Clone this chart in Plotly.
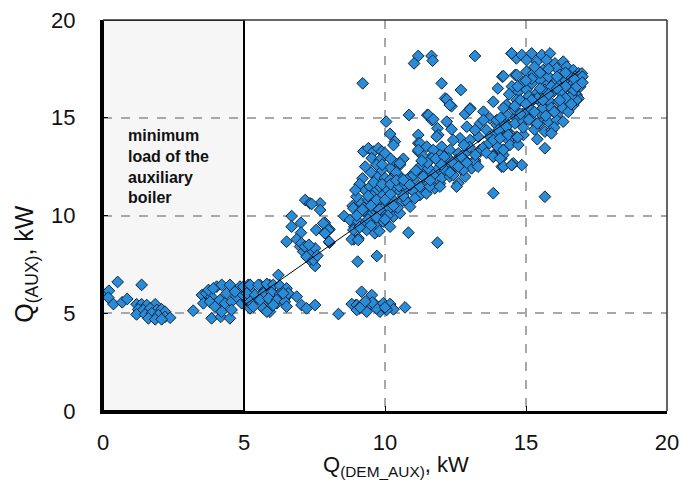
import plotly.graph_objects as go

# ---- data ----
low_x = [0.0, 0.21, 0.52, 0.19, 0.37, 0.68, 0.86, 1.37,
         1.19, 1.37, 1.55, 1.85, 1.25, 1.43, 1.67, 1.91, 2.08, 2.20, 1.19, 1.49, 1.73, 1.96, 2.20, 2.38, 1.61, 1.85, 2.08]
low_y = [6.0, 6.15, 6.6, 5.8, 5.47, 5.56, 5.73, 6.45,
         5.46, 5.46, 5.42, 5.46, 5.20, 5.17, 5.25, 5.17, 5.20, 5.08, 4.94, 4.94, 5.0, 4.91, 4.82, 4.77, 4.74, 4.69, 4.69]

mid_x = [3.20, 3.51, 3.66, 3.84, 4.03, 4.21, 4.50, 4.86, 5.15, 3.56, 3.79, 3.97, 4.15, 4.33, 4.56, 4.74, 4.92, 5.09,
         3.85, 4.18, 4.50, 4.21, 4.56, 4.38, 4.68, 4.97, 5.27, 5.27, 3.74, 3.91]
mid_y = [5.13, 5.93, 6.02, 5.85, 6.36, 6.45, 6.45, 6.36, 6.45, 5.51, 5.59, 5.34, 5.68, 5.51, 5.59, 5.85, 5.51, 5.68,
         4.74, 4.82, 4.74, 5.08, 5.17, 6.02, 6.10, 5.93, 5.85, 5.42, 6.19, 6.27]

band_x = [5.21, 5.57, 5.92, 6.22, 5.33, 5.69, 6.04, 6.39, 5.15, 5.51, 5.86, 6.22, 6.51, 5.21, 5.69, 5.92, 6.16,
          4.98, 5.22, 5.51, 5.81, 6.04, 6.28, 6.51, 5.10, 5.39, 5.69, 5.98, 6.28, 6.57, 5.22, 5.57, 5.87, 6.16, 6.45,
          5.33, 5.69, 6.04, 5.81]
band_y = [6.44, 6.44, 6.44, 6.96, 6.02, 6.10, 6.02, 6.19, 5.68, 5.76, 5.68, 5.76, 5.85, 5.25, 5.25, 5.08, 5.51,
          6.36, 6.45, 6.45, 6.50, 6.45, 6.40, 6.27, 6.02, 5.93, 6.02, 6.05, 5.98, 6.02, 5.59, 5.68, 5.76, 5.68, 5.59,
          5.34, 5.25, 5.42, 5.08]

rise_x = [6.87, 7.04, 7.22, 7.52, 8.35, 6.51, 6.69, 6.69, 7.02, 7.02, 6.87, 6.99, 7.10, 7.22, 7.40, 7.52, 7.34, 7.52,
          7.17, 7.34, 7.70, 7.70, 7.56, 7.87, 8.03, 7.86, 8.03, 7.04, 8.55, 8.85, 9.03, 8.91, 8.89, 9.03, 8.97, 9.09,
          7.16, 7.22, 7.46, 7.40, 7.30, 7.60, 7.81, 7.99, 7.87, 8.02]
rise_y = [5.85, 5.42, 5.25, 5.42, 4.96, 8.66, 9.97, 9.43, 9.63, 9.12, 8.78, 8.41, 8.15, 8.32, 8.06, 8.32, 7.72, 7.42,
          10.79, 10.62, 10.62, 10.28, 9.26, 9.63, 9.29, 9.12, 8.61, 8.58, 9.97, 10.49, 10.54, 9.43, 8.78, 7.64, 5.42, 5.25,
          8.41, 7.89, 7.72, 10.59, 8.50, 7.95, 9.60, 9.26, 9.09, 8.66]

shelf_x = [9.17, 9.53, 8.82, 9.00, 9.23, 9.41, 9.64, 9.82, 9.94, 10.18, 10.30, 10.71, 9.00, 9.35, 9.82, 10.06, 6.39, 6.51,
           9.12, 9.70, 9.55, 10.0, 9.30, 10.83, 11.86, 9.71, 9.06]
shelf_y = [6.10, 5.93, 5.47, 5.42, 5.51, 5.34, 5.47, 5.34, 5.51, 5.47, 5.20, 5.30, 5.17, 5.08, 5.08, 5.17, 6.02, 5.34,
           5.30, 5.25, 5.55, 5.30, 5.60, 9.12, 8.61, 7.93, 8.84]

c10_x = [9.21, 12.01, 12.13, 10.04, 10.85, 11.50, 11.66, 11.86, 11.89, 10.18, 10.35, 10.30, 11.18, 11.18, 11.18,
         9.23, 9.41, 9.59, 9.76, 9.89, 10.00, 9.53, 9.82, 10.30, 10.53, 10.18, 9.88, 9.70, 10.00, 10.30, 10.59, 10.77,
         11.01, 11.30, 11.47, 11.71, 11.95, 12.18, 11.53, 11.83, 12.18,
         9.29, 9.47, 9.64, 9.82, 10.06, 10.30, 10.53, 10.77, 11.01, 8.99, 9.17, 9.41, 9.59, 9.82, 10.06, 10.30, 10.53,
         10.77, 10.89, 8.88, 9.11, 9.35, 9.59, 9.82, 10.06, 10.30, 10.53, 8.76, 9.05, 9.29, 9.53, 9.70, 9.94, 10.18,
         8.88, 9.35, 9.64, 8.82, 9.05, 10.18, 11.36, 11.59, 11.24, 11.47, 11.06, 11.95, 11.77, 12.07, 12.25,
         9.2, 9.5, 9.1, 8.95, 9.7, 10.4, 10.65, 9.0, 9.45, 10.15, 10.45, 9.7, 9.25, 9.9, 10.2, 10.65, 9.55,
         9.6, 9.9, 10.2, 10.5, 9.4, 9.7, 10.0, 10.3, 9.2, 9.5, 9.8, 10.1, 9.4, 9.7, 10.0, 9.1, 9.5, 9.8,
         10.4, 10.7, 10.9, 10.2, 9.9, 9.3]
c10_y = [16.76, 16.76, 15.99, 14.80, 15.14, 15.14, 14.88, 14.46, 14.12, 14.17, 13.78, 13.60, 14.12, 13.70, 13.27,
         13.27, 13.44, 13.27, 13.44, 13.27, 13.18, 12.93, 12.84, 12.76, 12.59, 12.42, 12.33, 11.99, 11.91, 11.99, 11.91, 11.82,
         11.82, 12.33, 12.84, 13.10, 12.67, 12.84, 11.99, 12.33, 12.16,
         11.30, 11.47, 11.22, 11.47, 11.30, 11.47, 11.22, 11.30, 11.22, 10.96, 10.62, 10.79, 10.54, 10.79, 10.62, 10.79, 10.62,
         10.71, 10.45, 10.37, 10.19, 10.11, 10.19, 10.02, 10.11, 9.94, 10.11, 9.77, 9.69, 9.60, 9.77, 9.43, 9.69, 9.43,
         9.26, 9.26, 9.09, 8.78, 8.75, 11.82, 11.47, 11.82, 11.05, 11.13, 10.88, 11.64, 11.39, 12.16, 12.50,
         11.9, 12.2, 11.6, 11.3, 12.6, 12.2, 12.9, 10.0, 9.95, 10.35, 10.4, 10.4, 10.4, 11.0, 11.1, 11.0, 11.0,
         11.7, 11.6, 11.6, 11.5, 11.0, 10.8, 10.8, 10.5, 10.3, 10.5, 10.3, 10.0, 9.8, 9.9, 9.8, 9.4, 9.5, 9.2,
         11.8, 11.6, 12.0, 12.9, 12.6, 12.5]

c13_x = [11.18, 11.03, 11.65, 11.69, 13.19, 14.49, 14.66, 12.69, 12.19, 12.36, 14.16, 14.62, 13.84, 14.31, 11.54, 11.71,
         12.19, 12.36, 11.83, 12.84, 13.02, 13.49, 13.72, 13.37, 13.96, 14.31, 14.61, 14.43, 14.61, 14.19, 13.84, 14.13,
         14.55, 12.66, 13.02, 13.31, 13.60, 13.84, 14.07, 14.31, 11.24, 11.18,
         11.48, 11.71, 12.01, 12.30, 12.60, 12.89, 11.36, 11.66, 11.95, 12.25, 12.54, 12.84, 11.24, 11.54, 12.13, 12.42,
         12.72, 11.01, 11.36, 11.71, 12.01, 12.30, 12.60, 10.65, 10.88, 11.24, 11.59, 11.95, 13.19, 13.37, 12.84, 13.07, 10.53,
         13.01, 12.30, 12.42, 12.90, 13.19, 13.49, 13.72, 13.96, 14.20, 14.37, 13.37, 13.19, 13.84, 14.20, 14.14, 14.49,
         14.85, 15.67, 13.84, 15.67, 12.54, 12.42, 12.78,
         11.5, 11.8, 12.1, 12.4, 12.7, 12.0, 12.3, 12.6, 12.9, 13.2, 13.5, 13.7, 13.0, 12.8, 11.3, 11.1, 11.6, 13.3, 13.6, 14.0]
c13_y = [18.16, 17.78, 18.16, 17.92, 18.16, 18.29, 18.04, 16.42, 15.94, 15.59, 17.10, 17.19, 15.82, 15.65, 15.14, 14.92,
         14.80, 14.41, 14.03, 15.19, 15.48, 15.31, 14.97, 14.71, 14.63, 14.71, 15.05, 14.20, 13.86, 13.35, 13.09, 12.92,
         12.67, 13.95, 13.86, 14.03, 14.37, 13.86, 14.03, 14.29, 13.69, 13.35,
         13.52, 13.35, 13.52, 13.35, 13.18, 13.26, 13.01, 12.92, 13.09, 12.92, 12.84, 12.84, 12.50, 12.41, 12.33, 12.41,
         12.33, 12.07, 11.99, 12.07, 11.90, 11.99, 11.65, 11.82, 11.56, 11.48, 11.48, 11.48, 12.84, 13.35, 11.99, 12.41, 12.67,
         15.43, 15.65, 13.86, 14.54, 14.37, 14.88, 14.03, 14.20, 14.54, 13.86, 13.27, 12.75, 13.01, 13.10, 12.50, 12.58,
         12.58, 13.44, 11.14, 10.96, 11.48, 12.07, 12.33,
         12.7, 12.9, 13.0, 12.7, 13.0, 12.6, 12.2, 12.5, 12.7, 13.1, 13.5, 13.7, 13.5, 13.6, 12.8, 12.3, 11.8, 12.5, 13.2, 13.5]

c16_x = [14.49, 14.85, 15.20, 15.56, 15.85, 15.02, 15.38, 15.73, 16.03, 16.32,
         14.20, 14.67, 15.02, 15.26, 15.61, 16.09, 16.44, 16.68, 16.86,
         14.91, 15.20, 15.50, 15.79, 16.09, 16.38, 16.68, 14.73, 15.02, 15.38, 15.67, 15.97, 16.26, 16.62, 16.80,
         14.67, 14.97, 15.26, 15.56, 15.85, 16.15, 16.44, 16.68,
         14.61, 14.91, 15.20, 15.50, 15.79, 16.09, 14.31, 13.96, 14.31,
         14.02, 14.31, 14.61, 14.91, 15.20, 15.50, 15.79, 16.09, 15.67, 15.91, 13.84, 14.08, 14.37, 14.67, 14.91, 14.43, 14.73,
         14.20, 13.84, 14.08, 14.20, 14.49,
         16.86, 16.92, 16.74, 16.98, 16.85, 16.74, 16.79, 16.32, 16.44,
         15.4, 15.9, 16.4, 16.5, 15.3, 15.6, 16.3, 16.0, 15.3, 14.9, 15.1, 16.6, 16.2, 15.8, 16.9, 17.0, 14.8, 14.5, 14.0,
         15.2, 15.5, 15.8, 16.1, 16.4, 16.7, 15.0, 15.3, 15.6, 15.9, 16.2, 16.5, 14.8, 15.1, 15.4, 15.7, 16.0,
         15.2, 15.5, 15.8, 16.1, 16.4, 16.7, 15.0, 14.7, 14.4, 14.6, 14.2, 14.1, 16.8, 16.6, 17.0, 15.9, 15.4, 14.7]
c16_y = [18.29, 18.21, 18.29, 18.21, 18.29, 17.95, 17.87, 17.95, 17.78, 17.87,
         17.13, 17.19, 17.36, 17.27, 17.44, 17.53, 17.61, 17.44, 17.27,
         16.85, 16.76, 16.93, 16.76, 16.85, 16.93, 16.76, 16.33, 16.42, 16.25, 16.42, 16.33, 16.25, 16.42, 16.16,
         15.91, 15.74, 15.91, 15.74, 15.82, 15.82, 15.99, 15.65,
         15.40, 15.23, 15.40, 15.23, 15.31, 15.14, 15.14, 14.88, 15.65,
         14.37, 14.54, 14.71, 14.80, 14.88, 14.71, 14.80, 14.88, 14.29, 14.37, 13.86, 13.95, 14.12, 14.03, 14.12, 13.61, 13.61,
         13.35, 13.01, 12.92, 12.50, 12.58,
         15.99, 16.59, 17.10, 17.27, 16.85, 16.25, 15.91, 14.80, 15.40,
         16.0, 16.6, 16.6, 17.2, 17.6, 15.5, 15.5, 14.5, 14.4, 14.5, 16.1, 16.1, 17.2, 17.1, 16.9, 17.1, 15.9, 16.6, 16.5,
         15.9, 16.5, 16.2, 16.5, 16.0, 16.4, 15.7, 15.3, 15.9, 15.5, 15.9, 15.3, 15.2, 14.9, 14.7, 15.1, 15.3,
         17.0, 17.3, 17.5, 17.1, 17.3, 17.0, 16.9, 16.6, 16.2, 15.6, 15.5, 15.0, 16.6, 15.7, 16.8, 14.2, 13.9, 14.0]

trend_x = [5.0, 16.9]
trend_y = [5.4, 17.4]

x_ticks = [0, 5, 10, 15, 20]
y_ticks = [0, 5, 10, 15, 20]

all_x = low_x + mid_x + band_x + rise_x + shelf_x + c10_x + c13_x + c16_x
all_y = low_y + mid_y + band_y + rise_y + shelf_y + c10_y + c13_y + c16_y

FONT = "Liberation Sans, Arial, sans-serif"

fig = go.Figure()
fig.add_trace(go.Scatter(
    x=all_x, y=all_y, mode="markers",
    marker=dict(symbol="diamond", size=9, color="#2a8bd6",
                line=dict(color="#0c2540", width=1)),
    showlegend=False, hoverinfo="skip"))
fig.add_trace(go.Scatter(
    x=trend_x, y=trend_y, mode="lines",
    line=dict(color="black", width=1), showlegend=False, hoverinfo="skip"))

# shaded minimum-load zone (fill below the grid, outline above)
fig.add_shape(type="rect", x0=0, x1=5, y0=0, y1=20, xref="x", yref="y",
              line=dict(width=0), fillcolor="#f6f6f6", layer="below")
fig.add_shape(type="rect", x0=0, x1=5, y0=0, y1=20, xref="x", yref="y",
              line=dict(color="black", width=2), fillcolor="rgba(0,0,0,0)", layer="above")
# thin top and right frame
fig.add_shape(type="line", x0=0, x1=1, y0=1, y1=1, xref="paper", yref="paper",
              line=dict(color="#333333", width=1.5))
fig.add_shape(type="line", x0=1, x1=1, y0=0, y1=1, xref="paper", yref="paper",
              line=dict(color="#333333", width=1.5))

fig.add_annotation(x=0.8, y=14.65, xref="x", yref="y", xanchor="left", yanchor="top",
                   text="<b>minimum<br>load of the<br>auxiliary<br>boiler</b>", showarrow=False,
                   align="left", font=dict(family=FONT, size=16, color="#111111"))

fig.add_annotation(x=0.52, y=-0.14, xref="paper", yref="paper", xanchor="center", yanchor="middle",
                   text="Q<sub>(DEM_AUX)</sub>, kW", showarrow=False,
                   font=dict(family=FONT, size=22, color="#111111"))
fig.add_annotation(x=-0.137, y=0.376, xref="paper", yref="paper", xanchor="center", yanchor="middle",
                   text="Q<sub>(AUX)</sub>, kW", showarrow=False, textangle=-90,
                   font=dict(family=FONT, size=25, color="#111111"))

axis_common = dict(range=[0, 20], showgrid=True, gridcolor="#a8a8a8", gridwidth=1.5, griddash="dash",
                   zeroline=False, showline=True, linecolor="black", linewidth=3,
                   ticks="inside", ticklen=5, tickcolor="black", automargin=False,
                   tickfont=dict(family=FONT, size=22, color="#111111"))
fig.update_xaxes(**axis_common, tickvals=x_ticks, ticklabelstandoff=10)
fig.update_yaxes(**axis_common, tickvals=y_ticks, ticklabelstandoff=20)

fig.update_layout(width=681, height=496, margin=dict(l=103, r=14, t=20, b=85),
                  plot_bgcolor="white", paper_bgcolor="white",
                  font=dict(family=FONT))

fig.write_html("out.html")
